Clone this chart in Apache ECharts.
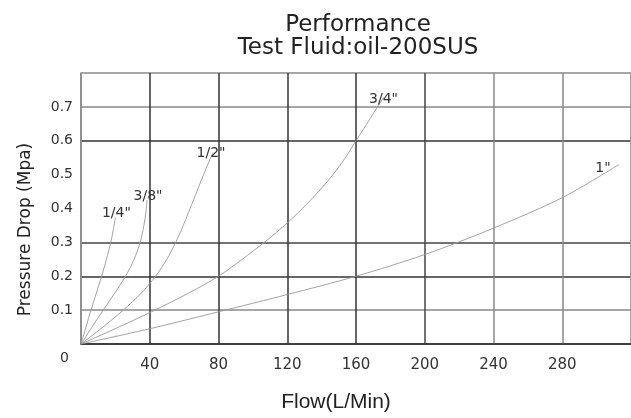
<!DOCTYPE html>
<html>
<head>
<meta charset="utf-8">
<script src="https://cdn.jsdelivr.net/npm/echarts@6/dist/echarts.min.js"></script>
<style>
  html, body { margin: 0; padding: 0; background: #fff; }
  #chart { width: 631px; height: 418px; }
</style>
</head>
<body>
<div id="chart"></div>
<script>
// curves: [flow L/min, pressure drop MPa]
const quarterData = [[0,0],[2.9,0.05],[5.8,0.1],[8.9,0.15],[12,0.2],[14.8,0.25],[17.3,0.3],[18.9,0.34],[20,0.373]];
const threeEighthData = [[0,0],[6.4,0.05],[12.9,0.1],[19.6,0.15],[25.9,0.2],[30.9,0.25],[34.4,0.3],[36.6,0.35],[37.8,0.39],[38.4,0.425]];
const halfData = [[0,0],[12.8,0.05],[24.6,0.1],[35,0.15],[43.4,0.2],[49.9,0.25],[55.1,0.3],[59.5,0.35],[63.5,0.4],[67.4,0.45],[71.3,0.5],[74.6,0.54],[76.8,0.565]];
const threeQuarterData = [[0,0],[22,0.05],[43,0.1],[62.5,0.15],[80,0.2],[93.8,0.25],[106.6,0.3],[118.4,0.35],[128.8,0.4],[138.2,0.45],[146.6,0.5],[153.8,0.55],[160,0.6],[168.2,0.665],[176,0.728]];
const oneData = [[0,0],[40,0.045],[80,0.095],[120,0.146],[160,0.2],[200,0.264],[240,0.342],[280,0.432],[313,0.53]];

const seriesNames = ['1/4"', '3/8"', '1/2"', '3/4"', '1"'];
// where each size label sits relative to the end of its curve
const labelOffsets = [[1, 3], [1, 3], [-2, 8], [0, 9], [-16, 11]];

// grid line colours, one per tick (0..320 and 0..0.8)
const xLineColors = ['#888','#333','#333','#333','#333','#444','#888','#888','#888'];
const yLineColors = ['#333','#888','#333','#444','transparent','transparent','#333','#888','#888'];

const font = 'DejaVu Sans';
const chart = echarts.init(document.getElementById('chart'));

const allData = [quarterData, threeEighthData, halfData, threeQuarterData, oneData];

const option = {
  backgroundColor: '#fff',
  animation: false,
  title: {
    text: 'Performance\nTest Fluid:oil-200SUS',
    left: 353,
    top: 9,
    textAlign: 'center',
    textStyle: { fontFamily: font, fontSize: 23, fontWeight: 'normal', color: '#222', lineHeight: 23 }
  },
  grid: { left: 81, right: -4, top: 73, bottom: 69 },
  xAxis: {
    type: 'value',
    min: 0, max: 320, interval: 40,
    name: 'Flow(L/Min)',
    nameLocation: 'middle',
    nameGap: 48,
    nameTextStyle: { fontFamily: 'Liberation Sans', fontSize: 21, color: '#222', padding: [0, 40, 0, 0] },
    axisLine: { show: true, lineStyle: { color: '#333', width: 1.5 } },
    axisTick: { show: false },
    axisLabel: { showMinLabel: false, showMaxLabel: false, margin: 14, fontFamily: font, fontSize: 15, color: '#333' },
    splitLine: { show: true, lineStyle: { color: xLineColors, width: 1.5 } }
  },
  yAxis: {
    type: 'value',
    min: 0, max: 0.8, interval: 0.1,
    name: 'Pressure Drop (Mpa)',
    nameLocation: 'middle',
    nameGap: 47,
    nameTextStyle: { fontFamily: font, fontSize: 17, color: '#222', padding: [0, 42, 0, 0] },
    axisLine: { show: true, lineStyle: { color: '#888', width: 1.5 } },
    axisTick: { show: false },
    axisLabel: {
      showMaxLabel: false,
      margin: 8,
      fontFamily: font, fontSize: 14, color: '#333',
      formatter: function (v) { return v === 0 ? '{z|0}' : v.toFixed(1); },
      rich: { z: { fontFamily: font, fontSize: 14, color: '#333', padding: [28, 4, 0, 0] } }
    },
    splitLine: { show: true, lineStyle: { color: yLineColors, width: 1.5 } }
  },
  series: allData.map(function (d, i) {
    return {
      name: seriesNames[i],
      type: 'line',
      data: d,
      smooth: 0.3,
      showSymbol: false,
      symbol: 'none',
      lineStyle: { color: '#999', width: 0.9 },
      endLabel: {
        show: true,
        formatter: '{a}',
        distance: 0,
        align: 'center',
        verticalAlign: 'bottom',
        offset: labelOffsets[i],
        fontFamily: font, fontSize: 14, color: '#333'
      }
    };
  })
};

chart.setOption(option);
</script>
</body>
</html>
